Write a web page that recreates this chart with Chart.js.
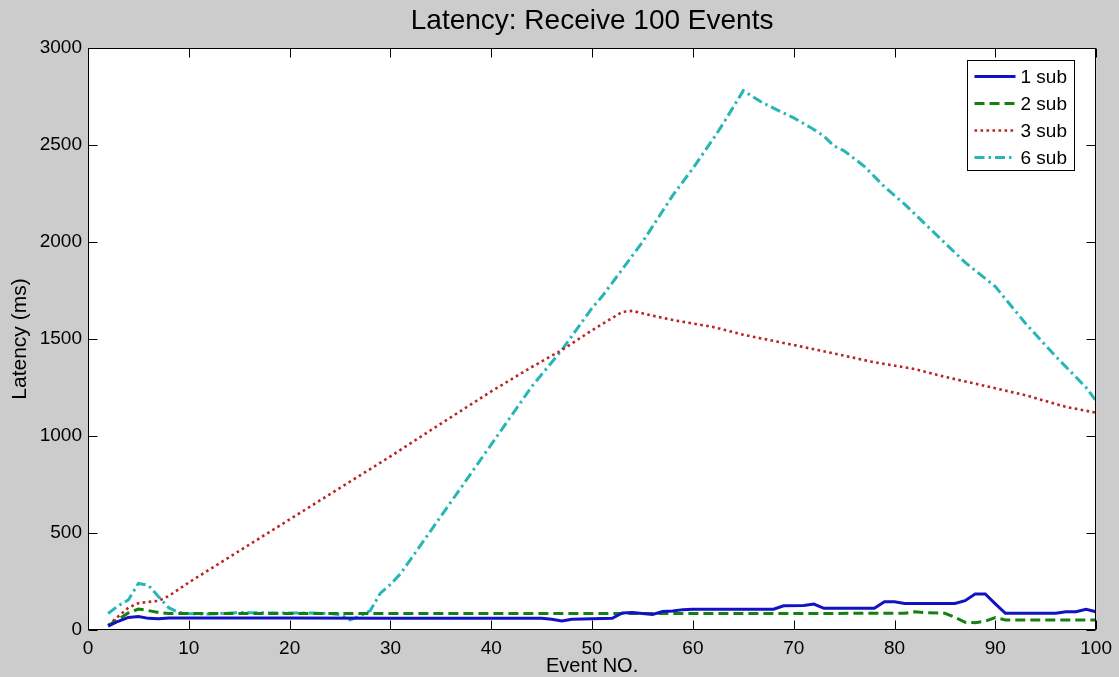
<!DOCTYPE html>
<html>
<head>
<meta charset="utf-8">
<title>Latency: Receive 100 Events</title>
<script src="https://cdn.jsdelivr.net/npm/chart.js@4"></script>
<style>
    html, body { margin: 0; padding: 0; background: #cccccc; }
    #wrap { width: 1119px; height: 677px; }
</style>
</head>
<body>
<div id="wrap"><canvas id="latencyChart" width="1119" height="677"></canvas></div>
<script>
// event numbers and latencies (ms) for each subscriber count
const sub1Events = [2, 3, 4, 5, 6, 7, 8, 12, 20, 30, 40, 45, 46, 47, 48, 52, 53, 54, 55, 56, 57, 58, 59, 60, 68, 69, 71, 72, 73, 78, 79, 80, 81, 86, 87, 88, 89, 90, 91, 96, 97, 98, 99, 100];
const sub1Latency = [20, 45, 65, 70, 60, 58, 62, 62, 62, 60, 60, 60, 55, 46, 55, 60, 88, 90, 85, 80, 95, 98, 105, 107, 107, 125, 126, 134, 112, 112, 146, 146, 137, 137, 151, 186, 186, 135, 86, 86, 94, 94, 107, 94];

const sub2Events = [2, 3, 4, 5, 6, 7, 8, 20, 40, 60, 81, 82, 83, 85, 86, 87, 88, 89, 90, 91, 100];
const sub2Latency = [22, 55, 88, 108, 100, 90, 85, 85, 85, 85, 86, 94, 90, 86, 65, 40, 38, 45, 64, 52, 52];

const sub3Events = [2, 3, 4, 5, 6, 7, 8, 10, 14, 20, 30, 34, 40, 44, 47, 50, 53, 54, 56, 58, 62, 65, 70, 74, 78, 82, 85, 90, 93, 95, 97, 100];
const sub3Latency = [25, 70, 115, 138, 145, 150, 175, 245, 375, 570, 895, 1030, 1230, 1355, 1443, 1545, 1640, 1645, 1620, 1598, 1562, 1522, 1469, 1425, 1380, 1345, 1305, 1246, 1210, 1180, 1150, 1120];

const sub6Events = [2, 3, 4, 5, 6, 7, 8, 9, 10, 12, 15, 18, 22, 24, 25, 26, 27, 28, 29, 30, 31, 36, 41, 44, 47, 50, 51, 55, 58, 60, 62, 63, 65, 67, 70, 72, 73, 74, 75, 77, 79, 81, 83, 87, 90, 93, 96, 99, 100];
const sub6Latency = [85, 125, 155, 240, 230, 172, 115, 90, 85, 82, 90, 88, 88, 85, 80, 52, 72, 100, 190, 235, 290, 660, 1030, 1254, 1443, 1660, 1720, 2000, 2240, 2380, 2530, 2610, 2780, 2715, 2640, 2580, 2545, 2495, 2470, 2390, 2285, 2195, 2095, 1895, 1770, 1580, 1410, 1250, 1180];

const seriesNames = ['1 sub', '2 sub', '3 sub', '6 sub'];
const xTicks = [0, 10, 20, 30, 40, 50, 60, 70, 80, 90, 100];
const yTicks = [0, 500, 1000, 1500, 2000, 2500, 3000];
const chartTitle = 'Latency: Receive 100 Events';

const FONT = '"Liberation Sans", Arial, sans-serif';

function toPoints(events, values) {
    return events.map((e, i) => ({ x: e, y: values[i] }));
}

// white axes background
const axesBackground = {
    id: 'axesBackground',
    beforeDatasetsDraw(chart) {
        const { ctx, chartArea: a } = chart;
        ctx.save();
        ctx.fillStyle = '#ffffff';
        ctx.fillRect(a.left, a.top, a.width, a.height);
        ctx.restore();
    }
};

// title centred over the axes rather than the whole canvas
const axesTitle = {
    id: 'axesTitle',
    afterDraw(chart) {
        const { ctx, chartArea: a } = chart;
        ctx.save();
        ctx.font = '28px ' + FONT;
        ctx.fillStyle = '#000000';
        ctx.textAlign = 'center';
        ctx.textBaseline = 'middle';
        ctx.fillText(chartTitle, (a.left + a.right) / 2, 21);
        ctx.restore();
    }
};

// box around the axes with inward ticks on all four sides
const axesBox = {
    id: 'axesBox',
    afterDatasetsDraw(chart) {
        const { ctx, chartArea: a, scales } = chart;
        const len = 9;
        const left = Math.round(a.left) + 0.5, right = Math.round(a.right) - 0.5;
        const top = Math.round(a.top) + 0.5, bottom = Math.round(a.bottom) - 0.5;
        ctx.save();
        ctx.strokeStyle = '#000000';
        ctx.lineWidth = 1;
        ctx.beginPath();
        scales.x.ticks.forEach(t => {
            const px = Math.round(scales.x.getPixelForValue(t.value)) + 0.5;
            ctx.moveTo(px, bottom); ctx.lineTo(px, bottom - len);
            ctx.moveTo(px, top); ctx.lineTo(px, top + len);
        });
        scales.y.ticks.forEach(t => {
            const py = Math.round(scales.y.getPixelForValue(t.value)) + 0.5;
            ctx.moveTo(left, py); ctx.lineTo(left + len, py);
            ctx.moveTo(right, py); ctx.lineTo(right - len, py);
        });
        ctx.stroke();
        ctx.strokeRect(left, top, right - left, bottom - top);
        ctx.restore();
    }
};

// legend box in the upper right corner of the axes
const boxLegend = {
    id: 'boxLegend',
    afterDraw(chart) {
        const { ctx, chartArea: a } = chart;
        const sets = chart.data.datasets;
        const w = 107, rowH = 27;
        const h = rowH * sets.length + 2;
        const x0 = Math.round(a.right) - 22 - w + 0.5;
        const y0 = Math.round(a.top) + 12 + 0.5;
        ctx.save();
        ctx.fillStyle = '#ffffff';
        ctx.fillRect(x0, y0, w, h);
        ctx.strokeStyle = '#000000';
        ctx.lineWidth = 1;
        ctx.strokeRect(x0, y0, w, h);
        ctx.font = '19px ' + FONT;
        ctx.textBaseline = 'middle';
        sets.forEach((ds, i) => {
            const cy = y0 + 16 + i * rowH;
            ctx.save();
            ctx.strokeStyle = ds.borderColor;
            ctx.lineWidth = ds.borderWidth;
            ctx.setLineDash(ds.borderDash || []);
            ctx.beginPath();
            ctx.moveTo(x0 + 7, cy);
            ctx.lineTo(x0 + 48, cy);
            ctx.stroke();
            ctx.restore();
            ctx.fillStyle = '#000000';
            ctx.fillText(ds.label, x0 + 53, cy + 1);
        });
        ctx.restore();
    }
};

const ctx = document.getElementById('latencyChart').getContext('2d');
new Chart(ctx, {
    type: 'line',
    data: {
        datasets: [
            {
                label: seriesNames[0],
                data: toPoints(sub1Events, sub1Latency),
                borderColor: '#1212c4',
                borderWidth: 3,
                borderDash: []
            },
            {
                label: seriesNames[1],
                data: toPoints(sub2Events, sub2Latency),
                borderColor: '#138013',
                borderWidth: 3,
                borderDash: [10, 5]
            },
            {
                label: seriesNames[2],
                data: toPoints(sub3Events, sub3Latency),
                borderColor: '#b82422',
                borderWidth: 2.6,
                borderDash: [2.6, 3.4]
            },
            {
                label: seriesNames[3],
                data: toPoints(sub6Events, sub6Latency),
                borderColor: '#26b6b6',
                borderWidth: 3,
                borderDash: [10, 4, 2.5, 4]
            }
        ]
    },
    options: {
        responsive: false,
        animation: false,
        devicePixelRatio: 1,
        layout: { padding: { top: 48, left: 0, right: 18, bottom: 0 } },
        elements: {
            point: { radius: 0 },
            line: { tension: 0, fill: false, borderCapStyle: 'butt' }
        },
        plugins: {
            legend: { display: false },
            tooltip: { enabled: false },
            title: { display: false }
        },
        scales: {
            x: {
                type: 'linear',
                min: xTicks[0],
                max: xTicks[xTicks.length - 1],
                afterBuildTicks: scale => { scale.ticks = xTicks.map(v => ({ value: v })); },
                afterFit: scale => { scale.height = 47; },
                grid: { display: false, drawTicks: false },
                border: { display: false },
                ticks: {
                    color: '#000000',
                    padding: 7,
                    maxRotation: 0,
                    font: { family: FONT, size: 19 },
                    callback: v => String(v)
                },
                title: {
                    display: true,
                    text: 'Event NO.',
                    color: '#000000',
                    font: { family: FONT, size: 20 },
                    padding: { top: 0, bottom: -1 }
                }
            },
            y: {
                min: yTicks[0],
                max: yTicks[yTicks.length - 1],
                afterBuildTicks: scale => { scale.ticks = yTicks.map(v => ({ value: v })); },
                afterFit: scale => { scale.width = 88; },
                grid: { display: false, drawTicks: false },
                border: { display: false },
                ticks: {
                    color: '#000000',
                    padding: 6,
                    font: { family: FONT, size: 19 },
                    callback: v => String(v)
                },
                title: {
                    display: true,
                    text: 'Latency (ms)',
                    color: '#000000',
                    font: { family: FONT, size: 21 },
                    padding: { top: 8, bottom: 0 }
                }
            }
        }
    },
    plugins: [axesBackground, axesBox, boxLegend, axesTitle]
});
</script>
</body>
</html>
